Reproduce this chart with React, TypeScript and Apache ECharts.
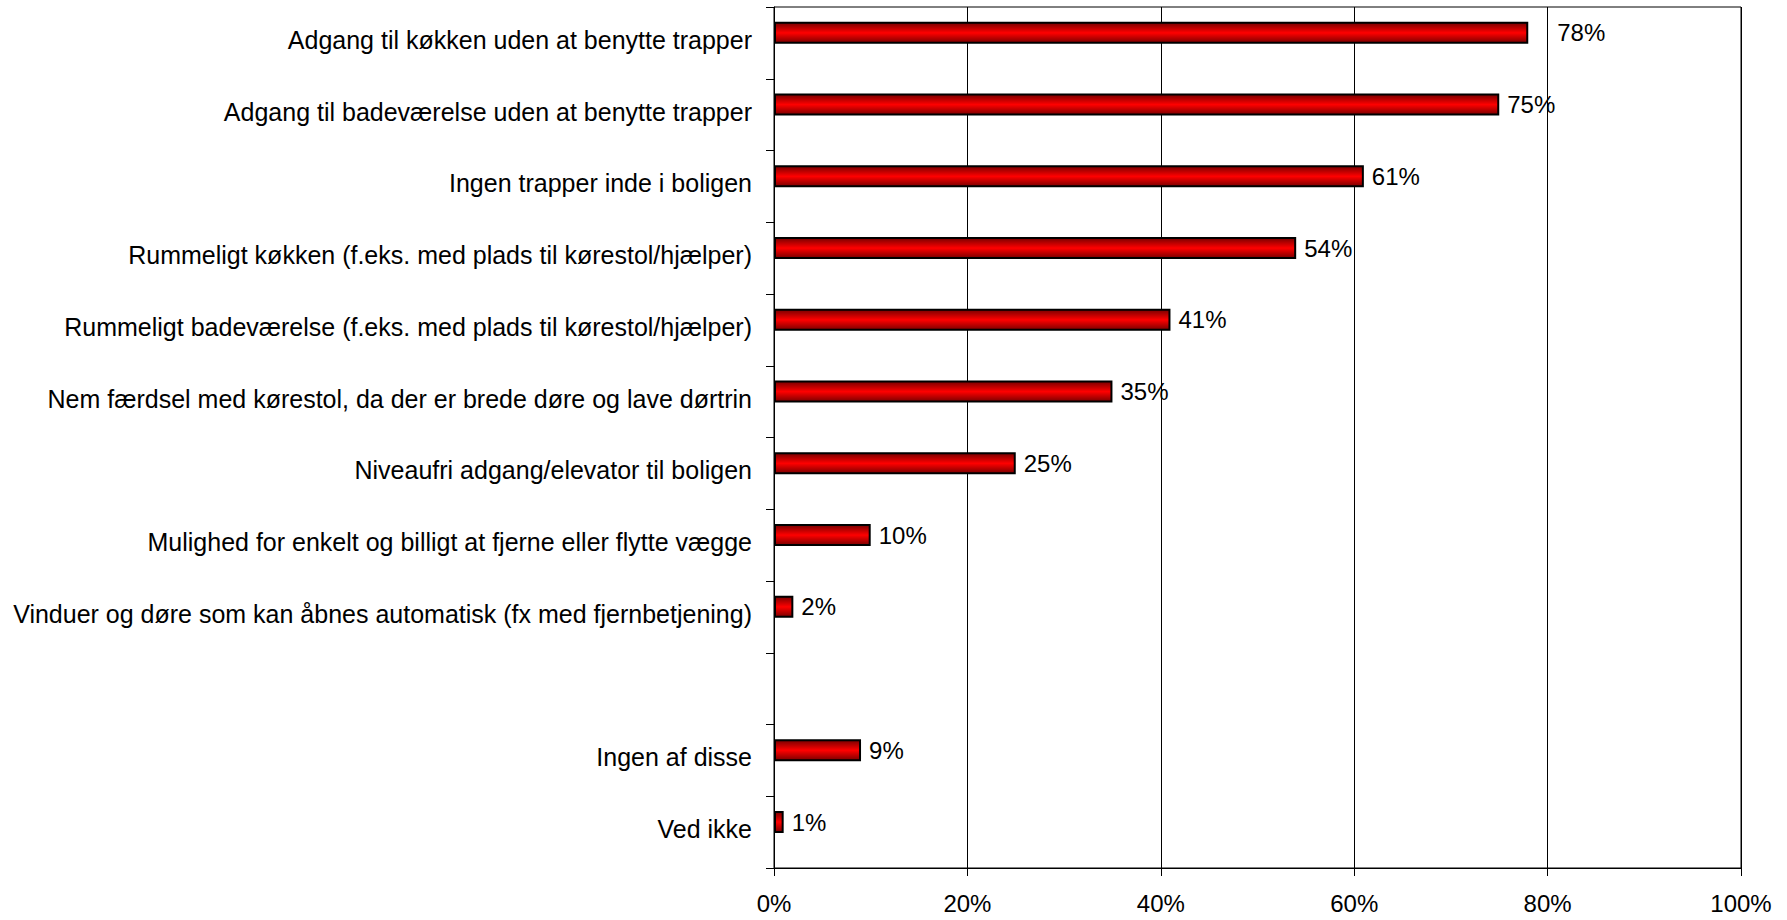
import React, { useEffect, useRef } from "react";
import * as echarts from "echarts";

const categories: string[] = [
  "Adgang til køkken uden at benytte trapper",
  "Adgang til badeværelse uden at benytte trapper",
  "Ingen trapper inde i boligen",
  "Rummeligt køkken (f.eks. med plads til kørestol/hjælper)",
  "Rummeligt badeværelse (f.eks. med plads til kørestol/hjælper)",
  "Nem færdsel med kørestol, da der er brede døre og lave dørtrin",
  "Niveaufri adgang/elevator til boligen",
  "Mulighed for enkelt og billigt at fjerne eller flytte vægge",
  "Vinduer og døre som kan åbnes automatisk (fx med fjernbetjening)",
  "",
  "Ingen af disse",
  "Ved ikke",
];

const values: (number | null)[] = [78, 75, 61, 54, 41, 35, 25, 10, 2, null, 9, 1];

const FONT = '"Liberation Sans", Arial, sans-serif';

export default function App() {
  const ref = useRef<HTMLDivElement>(null);
  useEffect(() => {
    document.body.style.margin = "0";
    const chart = echarts.init(ref.current!, null, { renderer: "svg" });
    const gradient = new echarts.graphic.LinearGradient(0, 0, 0, 1, [
      { offset: 0, color: "#7a0000" },
      { offset: 0.5, color: "#ff0000" },
      { offset: 1, color: "#7a0000" },
    ]);
    chart.setOption({
      animation: false,
      backgroundColor: "#ffffff",
      grid: {
        left: 774,
        right: 46,
        top: 7,
        bottom: 52,
        show: true,
        borderColor: "#000",
        borderWidth: 1,
      },
      xAxis: {
        type: "value",
        min: 0,
        max: 100,
        interval: 20,
        axisLine: { show: true, lineStyle: { color: "#000", width: 1 } },
        axisTick: { show: true, length: 8, lineStyle: { color: "#000" } },
        axisLabel: {
          formatter: "{value}%",
          color: "#000",
          fontSize: 24,
          fontFamily: FONT,
          margin: 23,
        },
        splitLine: { show: true, lineStyle: { color: "#000", width: 1 } },
      },
      yAxis: {
        type: "category",
        inverse: true,
        data: categories,
        axisLine: { show: true, lineStyle: { color: "#000", width: 1 } },
        axisTick: { show: true, length: 8, alignWithLabel: false, lineStyle: { color: "#000" } },
        axisLabel: {
          color: "#000",
          fontSize: 25,
          fontFamily: FONT,
          margin: 22,
          interval: 0,
          verticalAlign: "bottom",
          lineHeight: 6,
        },
        splitLine: { show: false },
      },
      series: [
        {
          type: "bar",
          data: values.map((v, i) =>
            i === 0 && v !== null
              ? { value: v, label: { offset: [21, 0] } }
              : v === null
              ? "-"
              : v
          ),
          barWidth: 22,
          barGap: "-9%",
          itemStyle: { color: gradient, borderColor: "#000", borderWidth: 2 },
          label: {
            show: true,
            position: "right",
            distance: 8,
            formatter: "{c}%",
            color: "#000",
            fontSize: 24,
            fontFamily: FONT,
          },
        },
        {
          type: "bar",
          data: values.map(() => "-"),
          barWidth: 22,
          itemStyle: { color: "transparent" },
        },
      ],
    });
    return () => chart.dispose();
  }, []);
  return <div ref={ref} style={{ width: 1787, height: 920 }} />;
}
